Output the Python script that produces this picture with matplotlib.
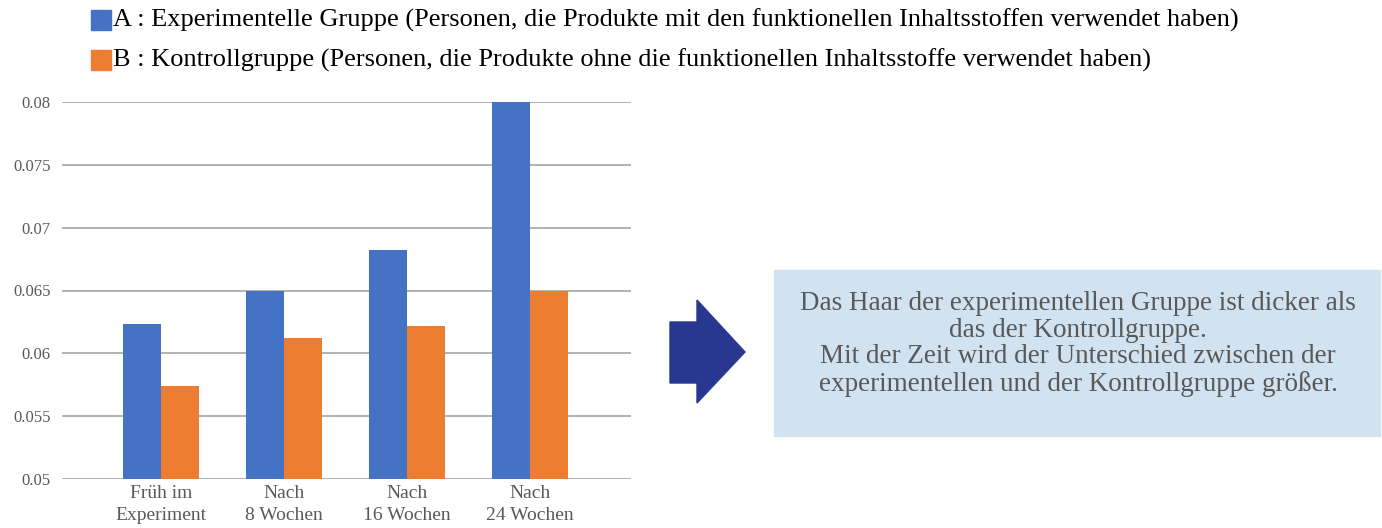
import matplotlib.pyplot as plt
from matplotlib.patches import Rectangle, Polygon
import numpy as np

categories = ["Früh im\nExperiment", "Nach\n8 Wochen", "Nach\n16 Wochen", "Nach\n24 Wochen"]
group_a = [0.0623, 0.0650, 0.0682, 0.0800]
group_b = [0.0574, 0.0612, 0.0622, 0.0650]
yticks = [0.05, 0.055, 0.06, 0.065, 0.07, 0.075, 0.08]
ytick_labels = ["0.05", "0.055", "0.06", "0.065", "0.07", "0.075", "0.08"]

label_a = "A : Experimentelle Gruppe (Personen, die Produkte mit den funktionellen Inhaltsstoffen verwendet haben)"
label_b = "B : Kontrollgruppe (Personen, die Produkte ohne die funktionellen Inhaltsstoffe verwendet haben)"
note = ("Das Haar der experimentellen Gruppe ist dicker als\n"
        "das der Kontrollgruppe.\n"
        "Mit der Zeit wird der Unterschied zwischen der\n"
        "experimentellen und der Kontrollgruppe größer.")

blue = "#4472C4"
orange = "#ED7D31"
gray = "#595959"

plt.rcParams["font.family"] = ["Liberation Serif", "DejaVu Serif"]

W, H = 1382, 528
fig = plt.figure(figsize=(W / 100, H / 100), dpi=100)
ax = fig.add_axes([62 / W, 1 - 479 / H, (631 - 62) / W, (479 - 102) / H])

x = np.arange(len(categories))
bw = 0.31
ax.bar(x - bw / 2, group_a, bw, color=blue, zorder=2)
ax.bar(x + bw / 2, group_b, bw, color=orange, zorder=2)

ax.set_ylim(0.05, 0.08)
ax.set_xlim(-0.805, 3.82)
ax.set_yticks(yticks)
ax.set_yticklabels(ytick_labels)
ax.set_xticks(x)
ax.set_xticklabels(categories, linespacing=1.4)
ax.tick_params(axis="both", length=0, colors=gray)
ax.tick_params(axis="y", pad=8, labelsize=12)
ax.tick_params(axis="x", pad=4, labelsize=14)
ax.grid(axis="y", color="#A6A6A6", linewidth=1.2, zorder=0)
for s in ax.spines.values():
    s.set_visible(False)

# legend at top
for yc, col, txt in [(20, blue, label_a), (60, orange, label_b)]:
    fig.add_artist(Rectangle((91 / W, 1 - (yc + 10) / H), 20 / W, 20 / H,
                             transform=fig.transFigure, color=col))
    fig.text(113 / W, 1 - yc / H, txt, fontsize=19, color="black",
             va="center", ha="left")

# arrow
pts = [(670, 322), (697, 322), (697, 300), (745, 352), (697, 403), (697, 383), (670, 383)]
fig.add_artist(Polygon([(px / W, 1 - py / H) for px, py in pts], closed=True,
                       transform=fig.transFigure, color="#283891"))

# note box
fig.add_artist(Rectangle((774 / W, 1 - 436 / H), (1380 - 774) / W, (436 - 270) / H,
                         transform=fig.transFigure, color="#D1E3F1"))
fig.text(1078 / W, 1 - 344 / H, note, fontsize=19.5, color=gray,
         ha="center", va="center", linespacing=1.1)

fig.savefig("out.png", dpi=100)
